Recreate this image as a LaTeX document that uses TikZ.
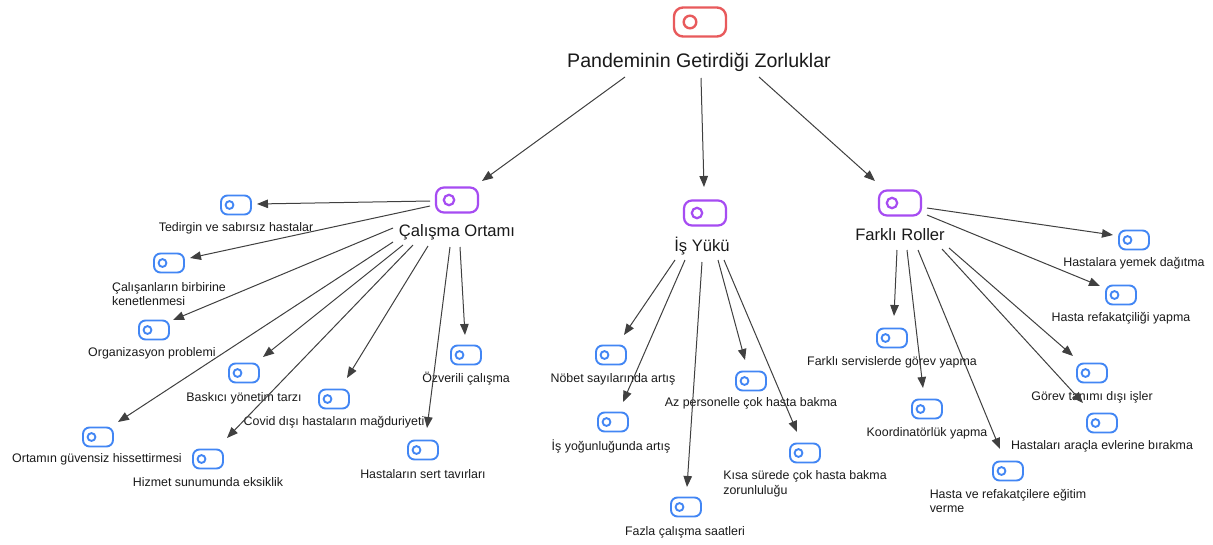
\documentclass[tikz,border=0pt]{standalone}
\usepackage{fontspec}
\setmainfont{Liberation Sans}
\usetikzlibrary{arrows.meta,calc}
\definecolor{cred}{HTML}{E85A5C}
\definecolor{cpur}{HTML}{A64CF2}
\definecolor{cblue}{HTML}{4286F4}
\definecolor{carr}{HTML}{404040}
\definecolor{ctxt}{HTML}{1A1A1A}
\tikzset{
  leafI/.style={draw=cblue, line width=1.9pt, rounded corners=6.5pt, minimum width=30pt, minimum height=19pt, inner sep=0pt,
    path picture={\draw[cblue, line width=1.9pt] ([xshift=-6.5pt]path picture bounding box.center) circle (3.9pt);}},
  catI/.style={draw=cpur, line width=2.2pt, rounded corners=8pt, minimum width=42pt, minimum height=25pt, inner sep=0pt,
    path picture={\draw[cpur, line width=2.2pt] ([xshift=-8pt]path picture bounding box.center) circle (5.2pt);}},
  rootI/.style={draw=cred, line width=2.4pt, rounded corners=9pt, minimum width=52pt, minimum height=29pt, inner sep=0pt,
    path picture={\draw[cred, line width=2.4pt] ([xshift=-10pt]path picture bounding box.center) circle (6.3pt);}},
  lab/.style={font=\fontsize{12.4}{14.6}\selectfont, text=ctxt, inner sep=0pt, align=left},
  catL/.style={font=\fontsize{16.6}{19}\selectfont, text=ctxt, inner sep=0pt},
  rootL/.style={font=\fontsize{19.6}{22}\selectfont, text=ctxt, inner sep=0pt},
  arr/.style={draw=carr, line width=1pt, -{Triangle[length=11pt,width=8.5pt]}},
}
\begin{document}
\begin{tikzpicture}[x=1pt,y=-1pt]
\useasboundingbox[fill=white] (0,0) rectangle (1213,544);

% root
\node[rootI] (rI) at (700,22) {};
\node[rootL] (rL) at (699,62) {Pandeminin Getirdiği Zorluklar};

% categories
\node[catI] (coI) at (457,200) {};
\node[catL] (coL) at (457,232) {Çalışma Ortamı};
\node[catI] (iyI) at (705,213) {};
\node[catL] (iyL) at (702,246) {İş Yükü};
\node[catI] (frI) at (900,203) {};
\node[catL] (frL) at (900,235) {Farklı Roller};

% Calisma Ortami leaves
\node[leafI] (tedI) at (236,205) {};
\node[lab] (tedL) at (236,228) {Tedirgin ve sabırsız hastalar};
\node[leafI] (calI) at (169,263) {};
\node[lab] (calL) at (169,294) {Çalışanların birbirine\\kenetlenmesi};
\node[leafI] (orgI) at (154,330) {};
\node[lab] (orgL) at (152,353) {Organizasyon problemi};
\node[leafI] (basI) at (244,373) {};
\node[lab] (basL) at (244,398) {Baskıcı yönetim tarzı};
\node[leafI] (covI) at (334,399) {};
\node[lab] (covL) at (334,422) {Covid dışı hastaların mağduriyeti};
\node[leafI] (ozvI) at (466,355) {};
\node[lab] (ozvL) at (466,379) {Özverili çalışma};
\node[leafI] (ortI) at (98,437) {};
\node[lab] (ortL) at (97,459) {Ortamın güvensiz hissettirmesi};
\node[leafI] (hizI) at (208,459) {};
\node[lab] (hizL) at (208,482) {Hizmet sunumunda eksiklik};
\node[leafI] (serI) at (423,450) {};
\node[lab] (serL) at (423,474) {Hastaların sert tavırları};

% Is Yuku leaves
\node[leafI] (nobI) at (611,355) {};
\node[lab] (nobL) at (613,379) {Nöbet sayılarında artış};
\node[leafI] (yogI) at (613,422) {};
\node[lab] (yogL) at (611,446) {İş yoğunluğunda artış};
\node[leafI] (fazI) at (686,507) {};
\node[lab] (fazL) at (685,532) {Fazla çalışma saatleri};
\node[leafI] (azI) at (751,381) {};
\node[lab] (azL) at (751,403) {Az personelle çok hasta bakma};
\node[leafI] (kisI) at (805,453) {};
\node[lab] (kisL) at (805,484) {Kısa sürede çok hasta bakma\\zorunluluğu};

% Farkli Roller leaves
\node[leafI] (yemI) at (1134,240) {};
\node[lab] (yemL) at (1134,263) {Hastalara yemek dağıtma};
\node[leafI] (refI) at (1121,295) {};
\node[lab] (refL) at (1121,318) {Hasta refakatçiliği yapma};
\node[leafI] (fsvI) at (892,338) {};
\node[lab] (fsvL) at (892,362) {Farklı servislerde görev yapma};
\node[leafI] (gorI) at (1092,373) {};
\node[lab] (gorL) at (1092,397) {Görev tanımı dışı işler};
\node[leafI] (kooI) at (927,409) {};
\node[lab] (kooL) at (927,433) {Koordinatörlük yapma};
\node[leafI] (araI) at (1102,423) {};
\node[lab] (araL) at (1102,446) {Hastaları araçla evlerine bırakma};
\node[leafI] (egiI) at (1008,471) {};
\node[lab] (egiL) at (1008,501) {Hasta ve refakatçilere eğitim\\verme};

% root arrows
\draw[arr] ($(rL)+(-74,15)$) -- ($(coI)+(25,-19)$);
\draw[arr] ($(rL)+(2,16)$) -- ($(iyI)+(-1,-26)$);
\draw[arr] ($(rL)+(60,15)$) -- ($(frI)+(-25,-22)$);

% Calisma Ortami arrows
\draw[arr] ($(coI)+(-27,1)$) -- ($(tedI)+(21,-1)$);
\draw[arr] ($(coI)+(-27,6)$) -- ($(calI)+(21,-5)$);
\draw[arr] ($(coL)+(-64,-4)$) -- ($(orgI)+(19,-10)$);
\draw[arr] ($(coL)+(-64,10)$) -- ($(ortI)+(20,-15)$);
\draw[arr] ($(coL)+(-54,13)$) -- ($(basI)+(19,-16)$);
\draw[arr] ($(coL)+(-44,13)$) -- ($(hizI)+(19,-21)$);
\draw[arr] ($(coL)+(-29,14)$) -- ($(covI)+(13,-21)$);
\draw[arr] ($(coL)+(-7,15)$) -- ($(serI)+(4,-22)$);
\draw[arr] ($(coL)+(3,15)$) -- ($(ozvI)+(-1,-20)$);

% Is Yuku arrows
\draw[arr] ($(iyL)+(-27,14)$) -- ($(nobI)+(13,-20)$);
\draw[arr] ($(iyL)+(-17,14)$) -- ($(yogI)+(10,-20)$);
\draw[arr] ($(iyL)+(0,16)$) -- ($(fazI)+(1,-20)$);
\draw[arr] ($(iyL)+(16,14)$) -- ($(azI)+(-6,-21)$);
\draw[arr] ($(iyL)+(22,14)$) -- ($(kisI)+(-8,-21)$);

% Farkli Roller arrows
\draw[arr] ($(frI)+(27,5)$) -- ($(yemI)+(-21,-5)$);
\draw[arr] ($(frI)+(27,12)$) -- ($(refI)+(-21,-9)$);
\draw[arr] ($(frL)+(-3,15)$) -- ($(fsvI)+(2,-22)$);
\draw[arr] ($(frL)+(7,15)$) -- ($(kooI)+(-4,-21)$);
\draw[arr] ($(frL)+(18,15)$) -- ($(egiI)+(-8,-22)$);
\draw[arr] ($(frL)+(49,13)$) -- ($(gorI)+(-19,-17)$);
\draw[arr] ($(frL)+(42,14)$) -- ($(araI)+(-19,-20)$);
\end{tikzpicture}
\end{document}
